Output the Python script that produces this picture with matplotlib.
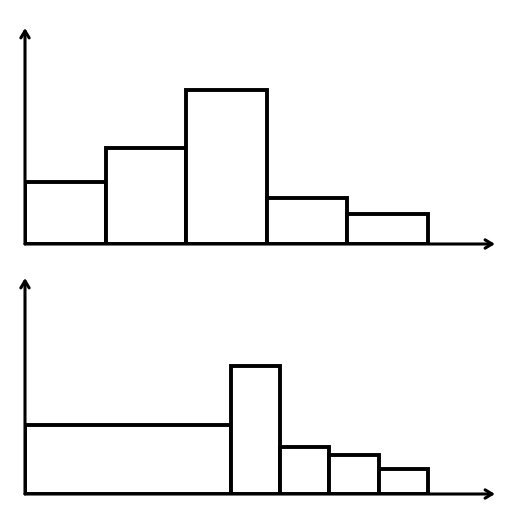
import matplotlib
matplotlib.use("Agg")
import matplotlib.pyplot as plt

# Top histogram: equal-width bins
top_edges = [0, 1, 2, 3, 4, 5]
top_heights = [62, 96, 154, 46, 30]

# Bottom histogram: unequal-width bins
bottom_edges = [0, 2.56, 3.16, 3.77, 4.39, 5]
bottom_heights = [69, 128, 47, 39, 25]

fig = plt.figure(figsize=(5.21, 5.21), dpi=100)
fig.patch.set_facecolor("white")

def draw(ax, edges, heights):
    lefts = edges[:-1]
    widths = [edges[i + 1] - edges[i] for i in range(len(edges) - 1)]
    ax.bar(lefts, heights, width=widths, align="edge", facecolor="white",
           edgecolor="black", linewidth=2.8, zorder=3)
    ax.set_xlim(0, 5.83)
    ax.set_ylim(0, 216)
    for s in ax.spines.values():
        s.set_visible(False)
    ax.set_xticks([])
    ax.set_yticks([])
    arrow = dict(arrowstyle="->,head_length=0.5,head_width=0.3", lw=2.2,
                 color="black", shrinkA=0, shrinkB=0)
    ax.annotate("", xy=(1, 0), xytext=(0, 0), xycoords="axes fraction",
                textcoords="axes fraction", arrowprops=arrow, annotation_clip=False)
    ax.annotate("", xy=(0, 1), xytext=(0, 0), xycoords="axes fraction",
                textcoords="axes fraction", arrowprops=arrow, annotation_clip=False)

ax1 = fig.add_axes([25 / 521, (521 - 244) / 521, 470 / 521, 216 / 521])
ax2 = fig.add_axes([25 / 521, (521 - 494) / 521, 470 / 521, 216 / 521])
draw(ax1, top_edges, top_heights)
draw(ax2, bottom_edges, bottom_heights)

fig.savefig("out.png", dpi=100, facecolor="white")
